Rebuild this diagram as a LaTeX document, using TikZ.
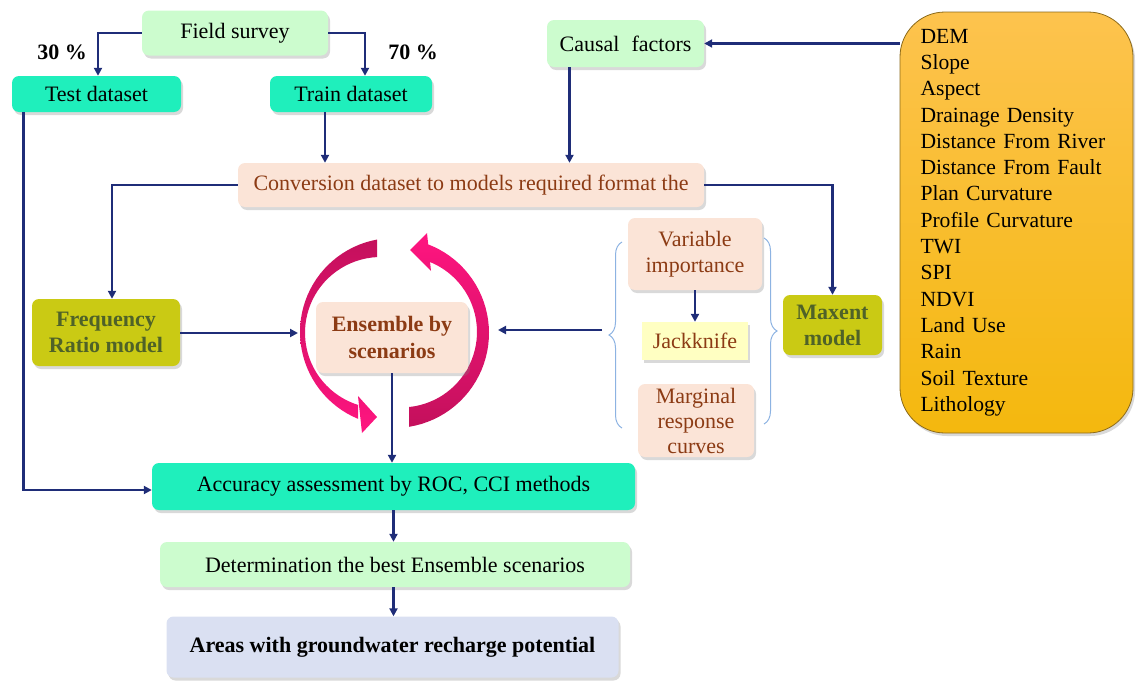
\documentclass[tikz,border=0pt]{standalone}
\usepackage{fontspec}
\setmainfont{Liberation Serif}
\usetikzlibrary{arrows.meta,shadows,decorations.pathreplacing,calc}
\definecolor{navy}{HTML}{1F2D78}
\definecolor{lgreen}{HTML}{CCFCCE}
\definecolor{mint}{HTML}{1FEFBC}
\definecolor{peach}{HTML}{FBE4D7}
\definecolor{brownT}{HTML}{8C3B14}
\definecolor{olive}{HTML}{CACA14}
\definecolor{oliveT}{HTML}{4F6228}
\definecolor{jack}{HTML}{FFFFC2}
\definecolor{lav}{HTML}{DAE0F2}
\definecolor{orTop}{HTML}{FDC34E}
\definecolor{orBot}{HTML}{F4B80E}
\definecolor{orLine}{HTML}{8C6A1A}
\definecolor{pinkA}{HTML}{C4105C}
\definecolor{pinkB}{HTML}{FF1580}
\definecolor{braceC}{HTML}{8DB3E2}
\begin{document}
\begin{tikzpicture}[x=1pt,y=-1pt,
  box/.style={rounded corners=7pt, inner sep=0pt, align=center,
    font=\fontsize{22}{26}\selectfont,
    drop shadow={shadow xshift=2pt,shadow yshift=-3pt,opacity=.3}},
  gbox/.style={box, fill=lgreen},
  mbox/.style={box, fill=mint},
  pbox/.style={box, fill=peach, text=brownT},
  obox/.style={box, fill=olive, text=oliveT, font=\fontsize{22}{26}\selectfont\bfseries},
  conn/.style={draw=navy, line width=2.5pt, -{Triangle[length=8pt,width=8pt]}},
  brc/.style={draw=braceC, line width=1pt, decorate, decoration={brace, amplitude=13pt}},
  pct/.style={font=\fontsize{22}{26}\selectfont\bfseries}
]
\useasboundingbox (0,0) rectangle (1143,680);

% nodes
\node[gbox, minimum width=186, minimum height=45] (field) at (235,33) {Field survey};
\node[mbox, minimum width=169, minimum height=36] (test) at (96.5,94) {Test dataset};
\node[mbox, minimum width=162, minimum height=36] (train) at (351,94) {Train dataset};
\node[pct] (p30) at (62,52) {30 \%};
\node[pct] (p70) at (413,52) {70 \%};
\node[gbox, minimum width=157, minimum height=47] (causal) at (625.5,43.5) {Causal\hspace{0.55em}factors};
\node[box, rounded corners=45pt, top color=orTop, bottom color=orBot, draw=orLine, line width=0.8pt,
  minimum width=233, minimum height=421, text width=192, align=left,
  font=\fontsize{21.6}{26.3}\selectfont] (factors) at (1016.5,222.5)
  {DEM\\Slope\\Aspect\\Drainage Density\\Distance From River\\Distance From Fault\\Plan Curvature\\Profile Curvature\\TWI\\SPI\\NDVI\\Land Use\\Rain\\Soil Texture\\Lithology};
\node[pbox, minimum width=466, minimum height=44] (conv) at (471,185) {Conversion dataset to models required format the};
\node[obox, minimum width=148, minimum height=67] (freq) at (106,332.5) {Frequency\\Ratio model};
\node[obox, minimum width=99, minimum height=60] (maxent) at (832.5,325) {Maxent\\model};
\node[pbox, minimum width=134, minimum height=72] (var) at (695,254) {Variable\\importance};
\node[box, fill=jack, text=brownT, rounded corners=0pt, minimum width=106, minimum height=38] (jack) at (695,341) {Jackknife};
\node[pbox, minimum width=116, minimum height=73, font=\fontsize{22}{25}\selectfont] (marg) at (696,420.5) {Marginal\\response\\curves};

% pink ring
\path[top color=pinkA, bottom color=pinkB]
  plot[domain=259.6:112.5, samples=40] ({394+94*cos(\x)},{332+94*sin(\x)})
  -- plot[domain=107.4:267.2, samples=40] ({380.7+75.7*cos(\x)},{332.7+75.7*sin(\x)}) -- cycle
  (358,396) -- (377,417) -- (362,433) -- cycle;
\path[top color=pinkB, bottom color=pinkA]
  plot[domain=80.9:-69.7, samples=40] ({394+95*cos(\x)},{333+95*sin(\x)})
  -- plot[domain=-67.8:84.3, samples=40] ({401.5+75.5*cos(\x)},{331.9+75.5*sin(\x)}) -- cycle
  (427,233) -- (410,250) -- (431,271) -- cycle;

\node[pbox, minimum width=152, minimum height=71, font=\fontsize{22}{27}\selectfont\bfseries] (ens) at (392,337.5) {Ensemble by\\scenarios};

\node[mbox, minimum width=483, minimum height=47] (acc) at (393.5,486.5) {Accuracy assessment by ROC, CCI methods};
\node[gbox, minimum width=470, minimum height=45] (det) at (395,564.5) {Determination the best Ensemble scenarios};
\node[box, fill=lav, minimum width=452, minimum height=61, font=\fontsize{22}{26}\selectfont\bfseries] (areas) at (392.5,647) {Areas with groundwater recharge potential};

% braces
\coordinate (bLbot) at (622,428);
\coordinate (bLtop) at (622,242);
\coordinate (bRtop) at (764,238);
\coordinate (bRbot) at (764,424);
\draw[brc] (bLbot) -- (bLtop);
\draw[brc] (bRtop) -- (bRbot);

% coordinates for free ends
\coordinate (ringW) at (298,333);
\coordinate (ringE) at (498,330);
\coordinate (braceTip) at (602,330);

% connectors
\draw[conn] (field.west) -| ([xshift=1.5]test.north);
\draw[conn] (field.east) -| ([xshift=14]train.north);
\draw[conn] ([xshift=-26]train.south) -- ([xshift=-26]train.south |- conv.north);
\draw[conn] ([xshift=-56]causal.south) -- ([xshift=-56]causal.south |- conv.north);
\draw[conn] (factors.west |- causal.east) -- (causal.east);
\draw[conn] (conv.west) -| ([xshift=6]freq.north);
\draw[conn] (conv.east) -| (maxent.north);
\draw[conn] (freq.east |- ringW) -- (ringW);
\draw[conn] (braceTip) -- (ringE);
\draw[conn] (var.south) -- (jack.north);
\draw[conn] (ens.south) -- (ens.south |- acc.north);
\draw[conn] ([xshift=-73]test.south) |- ([yshift=-3.5]acc.west);
\draw[conn] (acc.south) -- (acc.south |- det.north);
\draw[conn] (det.south -| acc.south) -- (acc.south |- areas.north);
\end{tikzpicture}
\end{document}
